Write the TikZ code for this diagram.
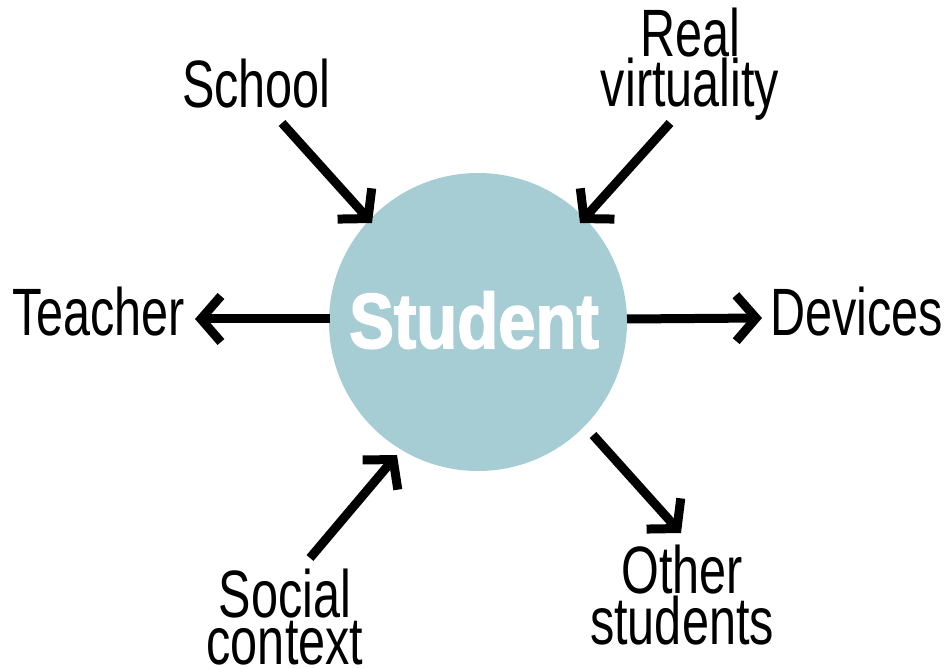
\documentclass[tikz,border=0pt]{standalone}
\usepackage{fontspec}
\usetikzlibrary{arrows.meta}
\newfontfamily\labelfont{Liberation Sans}[FakeStretch=0.725]
\newfontfamily\hubfont{Liberation Sans Bold}[FakeStretch=0.86,FakeBold=2]
\definecolor{hubblue}{HTML}{A7CDD4}
\begin{document}
\begin{tikzpicture}[x=1pt,y=-1pt,
  lbl/.style={inner sep=0pt,align=center,font=\labelfont\fontsize{67}{47}\selectfont},
  flow/.style={line width=9pt,-{Straight Barb[length=20pt,width=46pt]}}]
\useasboundingbox (0,0) rectangle (945,668);
% central circle
\node[circle,fill=hubblue,minimum size=298pt,inner sep=0pt] (hub) at (478,322) {};
\node[anchor=base,inner sep=0pt,text=white,font=\hubfont\fontsize{78}{78}\selectfont] (hubtext) at (474,348) {Student};
% surrounding labels (two-line labels are placed by their last baseline)
\node[lbl,anchor=base west] (teacher) at (12,335) {Teacher};
\node[lbl,anchor=base west] (devices) at (770,335) {Devices};
\node[lbl,anchor=base west] (school) at (182,108) {School};
\node[lbl,anchor=base] (virtual) at (690,107) {Real\\virtuality};
\node[lbl,anchor=base] (social) at (285,664) {Social\\context};
\node[lbl,anchor=base] (others) at (682,644) {Other\\students};
% arrow ends
\coordinate (schoolA) at (282,123);
\coordinate (schoolB) at (372,223);
\coordinate (virtA) at (670,123);
\coordinate (virtB) at (580,223);
\coordinate (teachA) at (330,319);
\coordinate (teachB) at (195,319);
\coordinate (devA) at (627,319);
\coordinate (devB) at (762,318);
\coordinate (socA) at (310,558);
\coordinate (socB) at (397,455);
\coordinate (othA) at (593,435);
\coordinate (othB) at (681,533);
% arrows
\draw[flow] (schoolA) -- (schoolB);
\draw[flow] (virtA) -- (virtB);
\draw[flow] (teachA) -- (teachB);
\draw[flow] (devA) -- (devB);
\draw[flow] (socA) -- (socB);
\draw[flow] (othA) -- (othB);
\end{tikzpicture}
\end{document}
